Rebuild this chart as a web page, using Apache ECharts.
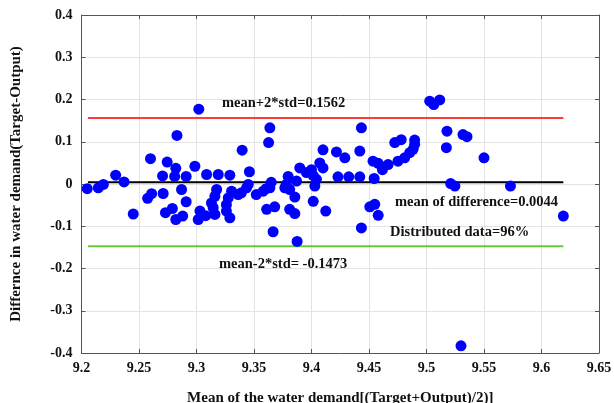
<!DOCTYPE html>
<html>
<head>
<meta charset="utf-8">
<script src="https://cdn.jsdelivr.net/npm/echarts@6/dist/echarts.min.js"></script>
<style>
html,body{margin:0;padding:0;background:#fff;}
#main{width:614px;height:403px;}
</style>
</head>
<body>
<div id="main"></div>
<script>
// mean of (target+output)/2
var meanX = [9.205,9.2146,9.219,9.2297,9.237,9.245,9.260,9.2575,9.261,9.2705,
	9.271,9.2745,9.282,9.281,9.283,9.291,9.287,9.291,9.273,9.279,
	9.282,9.288,9.2986,9.302,9.3088,9.3189,9.329,9.3175,9.316,9.313,
	9.3145,9.316,9.303,9.3015,9.308,9.3305,9.3276,9.326,9.326,9.329,
	9.3362,9.339,9.3435,9.345,9.3397,9.346,9.352,9.358,9.3638,9.365,
	9.3605,9.3638,9.3627,9.361,9.368,9.3666,9.3768,9.3797,9.378,9.381,
	9.3855,9.387,9.3898,9.3956,9.381,9.3855,9.3875,9.4,9.4015,9.4043,
	9.4029,9.4015,9.4072,9.41,9.41,9.4124,9.4217,9.429,9.423,9.4324,
	9.442,9.442,9.4434,9.4434,9.4507,9.455,9.458,9.4545,9.4535,9.458,
	9.4617,9.4666,9.4724,9.478,9.4752,9.481,9.4854,9.4883,9.4897,9.4897,
	9.5028,9.5063,9.5115,9.5178,9.5173,9.5317,9.5352,9.521,9.5247,9.55,
	9.573,9.619,9.53];
// difference target-output
var diffY = [-0.011,-0.009,-0.001,0.021,0.005,-0.071,0.060,-0.034,-0.023,0.019,
	-0.0225,0.052,0.037,0.018,0.115,0.018,-0.013,-0.042,-0.068,-0.058,
	-0.084,-0.076,0.042,0.177,0.0225,0.0225,0.021,-0.013,-0.029,-0.045,
	-0.056,-0.072,-0.064,-0.084,-0.075,-0.017,-0.033,-0.049,-0.064,-0.080,
	-0.025,-0.021,-0.009,-0.001,0.080,0.029,-0.025,-0.017,-0.009,0.004,
	-0.011,0.133,0.098,-0.060,-0.054,-0.113,-0.009,0.018,-0.001,-0.013,
	-0.031,0.007,0.038,0.027,-0.060,-0.070,-0.136,0.034,0.020,0.011,
	-0.005,-0.041,0.050,0.038,0.081,-0.064,0.076,0.062,0.017,0.017,
	0.078,0.017,0.133,-0.104,-0.054,-0.048,-0.074,0.013,0.054,0.049,
	0.034,0.046,0.098,0.105,0.054,0.062,0.074,0.082,0.094,0.104,
	0.196,0.188,0.199,0.125,0.086,0.117,0.112,0.001,-0.005,0.062,
	-0.005,-0.076,-0.383];

var meanDiff = 0.0044;
var upperLim = 0.1562;
var lowerLim = -0.1473;
var lineRange = [9.2056, 9.619];

var pts = [];
for (var i = 0; i < meanX.length; i++) {
	pts.push([meanX[i], diffY[i]]);
}
function hline(v){
	return [[lineRange[0], v], [lineRange[1], v]];
}

var fnt = '"Liberation Serif","Times New Roman",serif';
var gridCol = '#e3e3e3';
var axCol = '#555555';

var myChart = echarts.init(document.getElementById('main'));
var option = {
	animation: false,
	grid: {left: 81.5, right: 15, top: 15, bottom: 50, outerBoundsMode: 'none', containLabel: false},
	xAxis: [{
		type: 'value', min: 9.2, max: 9.65, interval: 0.05,
		name: 'Mean of the water demand[(Target+Output)/2)]',
		nameLocation: 'middle', nameGap: 38,
		nameTextStyle: {fontFamily: fnt, fontWeight: 'bold', fontSize: 15, color: '#111'},
		axisLine: {show: true, onZero: false, lineStyle: {color: axCol, width: 1}},
		axisTick: {show: true, inside: true, length: 4, lineStyle: {color: axCol}},
		axisLabel: {fontFamily: fnt, fontWeight: 'bold', fontSize: 14, color: '#111', margin: 8,
			formatter: function(v){ return String(Math.round(v*100)/100); }},
		splitLine: {show: true, lineStyle: {color: gridCol}}
	}, {
		type: 'value', min: 9.2, max: 9.65, interval: 0.05, position: 'top',
		axisLine: {show: true, onZero: false, lineStyle: {color: axCol}},
		axisTick: {show: true, inside: true, length: 4, lineStyle: {color: axCol}},
		axisLabel: {show: false}, splitLine: {show: false}
	}],
	yAxis: [{
		type: 'value', min: -0.4, max: 0.4, interval: 0.1,
		name: 'Differnce in water demand(Target-Output)',
		nameLocation: 'middle', nameGap: 58, nameRotate: 90,
		nameTextStyle: {fontFamily: fnt, fontWeight: 'bold', fontSize: 15, color: '#111'},
		axisLine: {show: true, onZero: false, lineStyle: {color: axCol}},
		axisTick: {show: true, inside: true, length: 4, lineStyle: {color: axCol}},
		axisLabel: {fontFamily: fnt, fontWeight: 'bold', fontSize: 14, color: '#111', margin: 9,
			formatter: function(v){ return String(Math.round(v*10)/10); }},
		splitLine: {show: true, lineStyle: {color: gridCol}}
	}, {
		type: 'value', min: -0.4, max: 0.4, interval: 0.1, position: 'right',
		axisLine: {show: true, onZero: false, lineStyle: {color: axCol}},
		axisTick: {show: true, inside: true, length: 4, lineStyle: {color: axCol}},
		axisLabel: {show: false}, splitLine: {show: false}
	}],
	series: [
		{
			type: 'line', data: hline(upperLim), symbol: 'none', z: 1,
			lineStyle: {color: '#ff3a3a', width: 2}
		},
		{
			type: 'line', data: hline(meanDiff), symbol: 'none', z: 1,
			lineStyle: {color: '#000', width: 2}
		},
		{
			type: 'line', data: hline(lowerLim), symbol: 'none', z: 1,
			lineStyle: {color: '#66cc33', width: 2}
		},
		{
			type: 'scatter', data: pts, symbol: 'circle', symbolSize: 11, z: 3,
			itemStyle: {color: '#0000ff', opacity: 1}
		}
	],
	graphic: [
		{type: 'text', left: 222, top: 96, z: 10,
			style: {text: 'mean+2*std=0.1562', font: 'bold 14.5px ' + fnt, fill: '#111'}},
		{type: 'text', left: 395, top: 195, z: 10,
			style: {text: 'mean of difference=0.0044', font: 'bold 14.5px ' + fnt, fill: '#111'}},
		{type: 'text', left: 390, top: 225, z: 10,
			style: {text: 'Distributed data=96%', font: 'bold 14.5px ' + fnt, fill: '#111'}},
		{type: 'text', left: 219, top: 257, z: 10,
			style: {text: 'mean-2*std= -0.1473', font: 'bold 14.5px ' + fnt, fill: '#111'}}
	]
};
myChart.setOption(option);
</script>
</body>
</html>
